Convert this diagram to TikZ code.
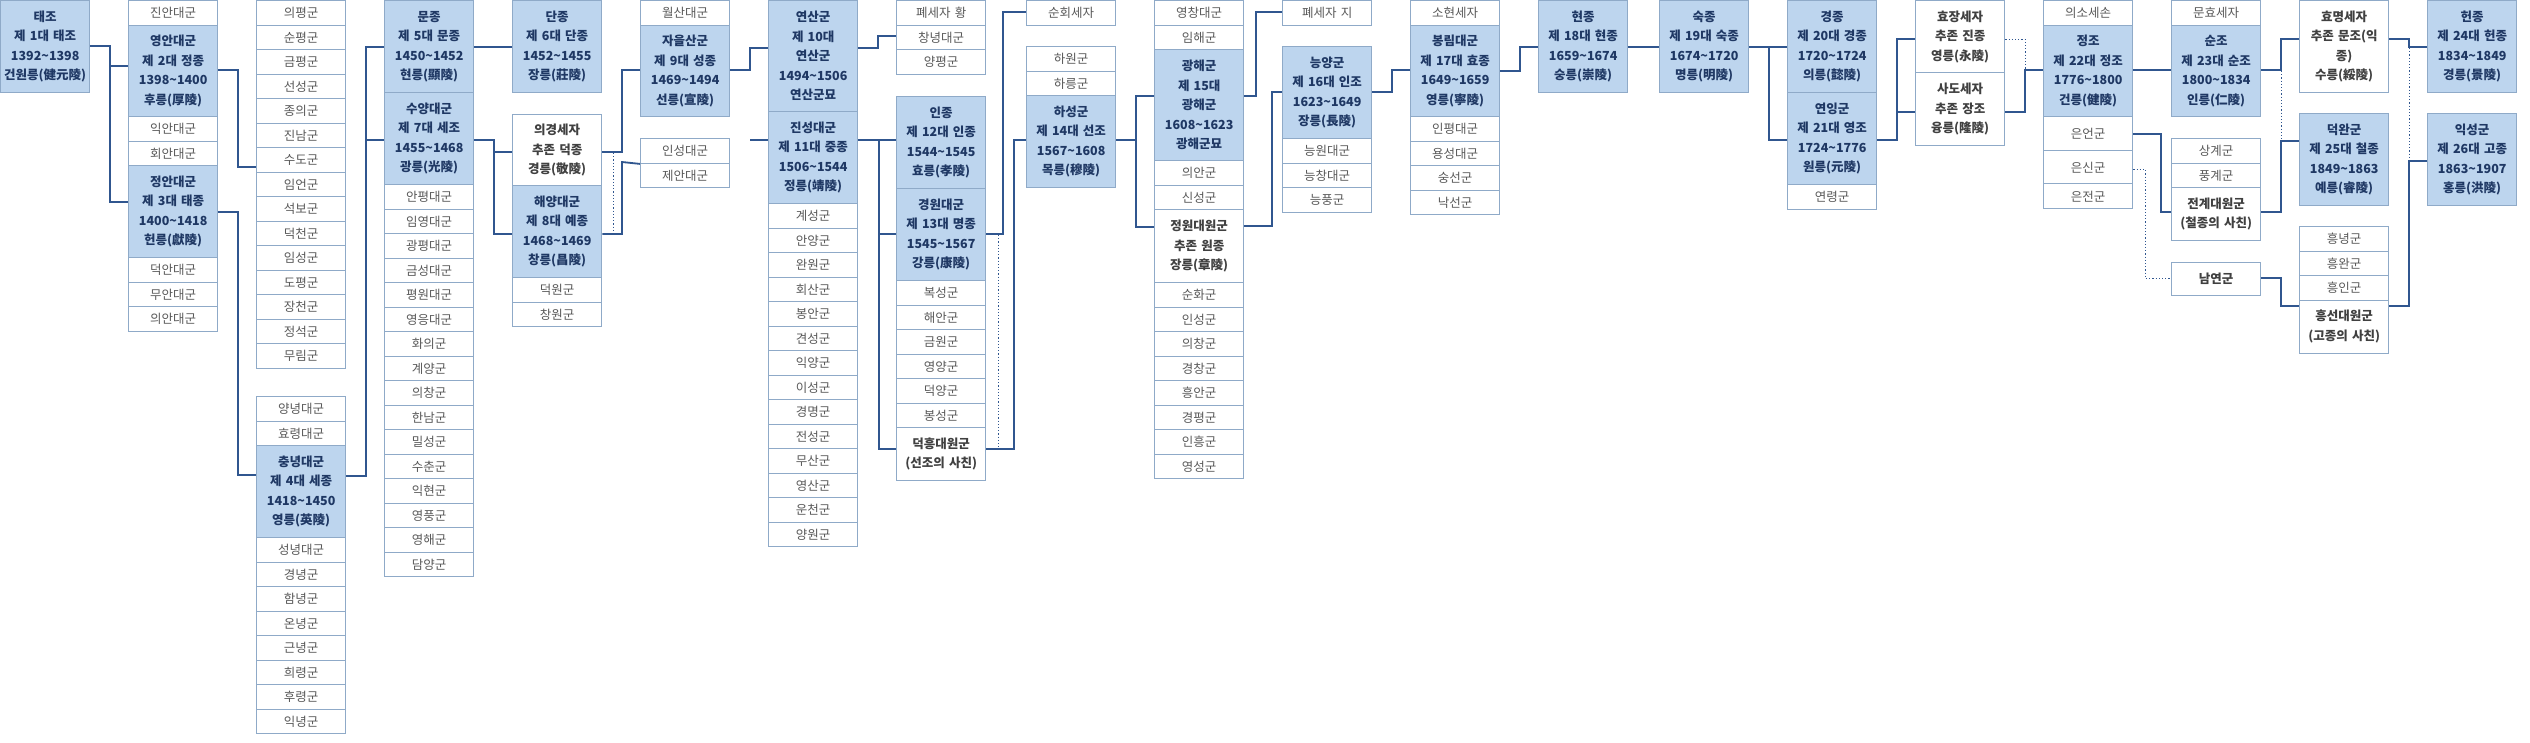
\documentclass[tikz,border=0pt]{standalone}
\usepackage{fontspec}
\setmainfont{Noto Sans CJK KR}
\definecolor{bluefill}{HTML}{BDD5EE}
\definecolor{bordc}{HTML}{8FAAC8}
\definecolor{bluetext}{HTML}{1F3864}
\definecolor{graytext}{HTML}{595959}
\definecolor{darktext}{HTML}{404040}
\definecolor{linec}{HTML}{30568F}
\newcommand{\tld}{\textasciitilde}
\begin{document}
\begin{tikzpicture}[x=1pt,y=-1pt,
  box/.style={draw=bordc, line width=1.4pt, anchor=north west, inner sep=0pt,
    text width=89pt, align=center, minimum height=#1},
  wb/.style={box=#1, fill=white, text=graytext, font=\fontsize{12.5}{19.5}\selectfont},
  wb/.default=24.5pt,
  bb/.style={box=#1, fill=bluefill, text=bluetext, font=\bfseries\fontsize{12.5}{19.5}\selectfont},
  bb/.default=92pt,
  wbb/.style={box=#1, fill=white, text=darktext, font=\bfseries\fontsize{12.5}{19.5}\selectfont},
  conn/.style={draw=linec, line width=1.8pt},
  dotc/.style={draw=linec, line width=1pt, dash pattern=on 1.2pt off 2pt}]
\useasboundingbox[fill=white] (0,0) rectangle (2530,742);

% column 1
\node[bb=92pt] (taejo) at (0,0) {태조\\제 1대 태조\\1392\tld1398\\건원릉(健元陵)};

% column 2
\node[wb] (jinan) at (128,0) {진안대군};
\node[bb=91.5pt] (youngan) at (128,24.5) {영안대군\\제 2대 정종\\1398\tld1400\\후릉(厚陵)};
\node[wb] (ikan) at (128,116) {익안대군};
\node[wb] (hoean) at (128,140.5) {회안대군};
\node[bb=92pt] (jeongan) at (128,165) {정안대군\\제 3대 태종\\1400\tld1418\\헌릉(獻陵)};
\node[wb] (deokan) at (128,257) {덕안대군};
\node[wb] (muan) at (128,281.5) {무안대군};
\node[wb] (uian) at (128,306) {의안대군};

% column 3
\foreach \t [count=\i] in {의평군,순평군,금평군,선성군,종의군,진남군,수도군,임언군,석보군,덕천군,임성군,도평군,장천군,정석군,무림군}
  \node[wb] (ca\i) at (256,{(\i-1)*24.5}) {\t};
\node[wb] (yangnyeong) at (256,396) {양녕대군};
\node[wb] (hyoryeong) at (256,420.5) {효령대군};
\node[bb=92pt] (chungnyeong) at (256,445) {충녕대군\\제 4대 세종\\1418\tld1450\\영릉(英陵)};
\foreach \t [count=\i] in {성녕대군,경녕군,함녕군,온녕군,근녕군,희령군,후령군,익녕군}
  \node[wb] (cb\i) at (256,{537+(\i-1)*24.5}) {\t};

% column 4
\node[bb=92pt] (munjong) at (384,0) {문종\\제 5대 문종\\1450\tld1452\\현릉(顯陵)};
\node[bb=92pt] (suyang) at (384,92) {수양대군\\제 7대 세조\\1455\tld1468\\광릉(光陵)};
\foreach \t [count=\i] in {안평대군,임영대군,광평대군,금성대군,평원대군,영응대군,화의군,계양군,의창군,한남군,밀성군,수춘군,익현군,영풍군,영해군,담양군}
  \node[wb] (cc\i) at (384,{184+(\i-1)*24.5}) {\t};

% column 5
\node[bb=92pt] (danjong) at (512,0) {단종\\제 6대 단종\\1452\tld1455\\장릉(莊陵)};
\node[wbb=71pt] (uigyeong) at (512,114) {의경세자\\추존 덕종\\경릉(敬陵)};
\node[bb=92pt] (haeyang) at (512,185) {해양대군\\제 8대 예종\\1468\tld1469\\창릉(昌陵)};
\node[wb] (deokwon) at (512,277) {덕원군};
\node[wb] (changwon) at (512,301.5) {창원군};

% column 6
\node[wb] (wolsan) at (640,0) {월산대군};
\node[bb=91.5pt] (jaeul) at (640,24.5) {자을산군\\제 9대 성종\\1469\tld1494\\선릉(宣陵)};
\node[wb] (inseong) at (640,138) {인성대군};
\node[wb] (jean) at (640,162.5) {제안대군};

% column 7
\node[bb=111pt] (yeonsan) at (768,0) {연산군\\제 10대\\연산군\\1494\tld1506\\연산군묘};
\node[bb=92pt] (jinseong) at (768,111) {진성대군\\제 11대 중종\\1506\tld1544\\정릉(靖陵)};
\foreach \t [count=\i] in {계성군,안양군,완원군,회산군,봉안군,견성군,익양군,이성군,경명군,전성군,무산군,영산군,운천군,양원군}
  \node[wb] (cd\i) at (768,{203+(\i-1)*24.5}) {\t};

% column 8
\node[wb] (hwang) at (896,0) {폐세자 황};
\node[wb] (changnyeong) at (896,24.5) {창녕대군};
\node[wb] (yangpyeong) at (896,49) {양평군};
\node[bb=92pt] (injong) at (896,96) {인종\\제 12대 인종\\1544\tld1545\\효릉(孝陵)};
\node[bb=92pt] (gyeongwon) at (896,188) {경원대군\\제 13대 명종\\1545\tld1567\\강릉(康陵)};
\foreach \t [count=\i] in {복성군,해안군,금원군,영양군,덕양군,봉성군}
  \node[wb] (ce\i) at (896,{280+(\i-1)*24.5}) {\t};
\node[wbb=53pt] (deokheung) at (896,427) {덕흥대원군\\(선조의 사친)};

% column 9
\node[wb] (sunhoe) at (1026,0) {순회세자};
\node[wb] (hawon) at (1026,46) {하원군};
\node[wb] (hareung) at (1026,70.5) {하릉군};
\node[bb=92pt] (haseong) at (1026,95) {하성군\\제 14대 선조\\1567\tld1608\\목릉(穆陵)};

% column 10
\node[wb] (yeongchang) at (1154,0) {영창대군};
\node[wb] (imhae) at (1154,24.5) {임해군};
\node[bb=111pt] (gwanghae) at (1154,49) {광해군\\제 15대\\광해군\\1608\tld1623\\광해군묘};
\node[wb] (uian2) at (1154,160) {의안군};
\node[wb] (sinseong) at (1154,184.5) {신성군};
\node[wbb=73pt] (jeongwon) at (1154,209) {정원대원군\\추존 원종\\장릉(章陵)};
\foreach \t [count=\i] in {순화군,인성군,의창군,경창군,흥안군,경평군,인흥군,영성군}
  \node[wb] (cf\i) at (1154,{282+(\i-1)*24.5}) {\t};

% column 11
\node[wb] (pyeji) at (1282,0) {폐세자 지};
\node[bb=92pt] (neungyang) at (1282,46) {능양군\\제 16대 인조\\1623\tld1649\\장릉(長陵)};
\node[wb] (neungwon) at (1282,138) {능원대군};
\node[wb] (neungchang) at (1282,162.5) {능창대군};
\node[wb] (neungpung) at (1282,187) {능풍군};

% column 12
\node[wb] (sohyeon) at (1410,0) {소현세자};
\node[bb=91.5pt] (bongnim) at (1410,24.5) {봉림대군\\제 17대 효종\\1649\tld1659\\영릉(寧陵)};
\node[wb] (inpyeong) at (1410,116) {인평대군};
\node[wb] (yongseong) at (1410,140.5) {용성대군};
\node[wb] (sungseon) at (1410,165) {숭선군};
\node[wb] (nakseon) at (1410,189.5) {낙선군};

% columns 13-14
\node[bb=92pt] (hyeonjong) at (1538,0) {현종\\제 18대 현종\\1659\tld1674\\숭릉(崇陵)};
\node[bb=92pt] (sukjong) at (1659,0) {숙종\\제 19대 숙종\\1674\tld1720\\명릉(明陵)};

% column 15
\node[bb=92pt] (gyeongjong) at (1787,0) {경종\\제 20대 경종\\1720\tld1724\\의릉(懿陵)};
\node[bb=92pt] (yeoning) at (1787,92) {연잉군\\제 21대 영조\\1724\tld1776\\원릉(元陵)};
\node[wb] (yeonryeong) at (1787,184) {연령군};

% column 16
\node[wbb=72pt] (hyojang) at (1915,0) {효장세자\\추존 진종\\영릉(永陵)};
\node[wbb=73pt] (sado) at (1915,72) {사도세자\\추존 장조\\융릉(隆陵)};

% column 17
\node[wb] (uiso) at (2043,0) {의소세손};
\node[bb=91.5pt] (jeongjo) at (2043,24.5) {정조\\제 22대 정조\\1776\tld1800\\건릉(健陵)};
\node[wb=34pt] (euneon) at (2043,116) {은언군};
\node[wb=33pt] (eunsin) at (2043,150) {은신군};
\node[wb=25pt] (eunjeon) at (2043,183) {은전군};

% column 18
\node[wb] (munhyo) at (2171,0) {문효세자};
\node[bb=91.5pt] (sunjo) at (2171,24.5) {순조\\제 23대 순조\\1800\tld1834\\인릉(仁陵)};
\node[wb] (sanggye) at (2171,138) {상계군};
\node[wb] (punggye) at (2171,162.5) {풍계군};
\node[wbb=53pt] (jeongye) at (2171,187) {전계대원군\\(철종의 사친)};
\node[wbb=33pt] (namyeon) at (2171,262) {남연군};

% column 19
\node[wbb=92pt] (hyomyeong) at (2299,0) {효명세자\\추존 문조(익\\종)\\수릉(綏陵)};
\node[bb=92pt] (deokwan) at (2299,113) {덕완군\\제 25대 철종\\1849\tld1863\\예릉(睿陵)};
\node[wb] (heungnyeong) at (2299,226) {흥녕군};
\node[wb] (heungwan) at (2299,250.5) {흥완군};
\node[wb] (heungin) at (2299,275) {흥인군};
\node[wbb=53pt] (heungseon) at (2299,299.5) {흥선대원군\\(고종의 사친)};

% column 20
\node[bb=92pt] (heonjong) at (2427,0) {헌종\\제 24대 헌종\\1834\tld1849\\경릉(景陵)};
\node[bb=92pt] (ikseong) at (2427,113) {익성군\\제 26대 고종\\1863\tld1907\\홍릉(洪陵)};

% connectors
\draw[conn] (taejo.east |- 0,46) -| (110,202) -- (jeongan.west |- 0,202);
\draw[conn] (110,66) -- (youngan.west |- 0,66);
\draw[conn] (youngan.east |- 0,70) -| (238,167) -- (ca7.west |- 0,167);
\draw[conn] (jeongan.east |- 0,212) -| (238,475) -- (chungnyeong.west |- 0,475);
\draw[conn] (chungnyeong.east |- 0,476) -| (366,47) -- (munjong.west |- 0,47);
\draw[conn] (366,140) -- (suyang.west |- 0,140);
\draw[conn] (munjong.east |- 0,47) -- (danjong.west |- 0,47);
\draw[conn] (suyang.east |- 0,140) -| (494,234) -- (haeyang.west |- 0,234);
\draw[conn] (494,152) -- (uigyeong.west |- 0,152);
\draw[conn] (uigyeong.east |- 0,152) -| (622,70) -- (jaeul.west |- 0,70);
\draw[conn] (haeyang.east |- 0,234) -| (622,162) -- (inseong.south west);
\draw[dotc] (613,153) -- (613,233);
\draw[conn] (jaeul.east |- 0,70) -| (750,48) -- (yeonsan.west |- 0,48);
\draw[conn] (750,140) -- (jinseong.west |- 0,140);
\draw[conn] (yeonsan.east |- 0,48) -| (878,36) -- (changnyeong.west |- 0,36);
\draw[conn] (jinseong.east |- 0,140) -| (879,449) -- (deokheung.west |- 0,449);
\draw[conn] (879,140) -- (injong.west |- 0,140);
\draw[conn] (879,234) -- (gyeongwon.west |- 0,234);
\draw[conn] (gyeongwon.east |- 0,234) -| (1003,12) -- (sunhoe.west |- 0,12);
\draw[dotc] (998,235) -- (998,448);
\draw[conn] (deokheung.east |- 0,449) -| (1014,140) -- (haseong.west |- 0,140);
\draw[conn] (haseong.east |- 0,140) -| (1136,96) -- (gwanghae.west |- 0,96);
\draw[conn] (1136,140) |- (jeongwon.west |- 0,227);
\draw[conn] (gwanghae.east |- 0,96) -| (1256,12) -- (pyeji.west |- 0,12);
\draw[conn] (jeongwon.east |- 0,226) -| (1272,92) -- (neungyang.west |- 0,92);
\draw[conn] (neungyang.east |- 0,92) -| (1392,70) -- (bongnim.west |- 0,70);
\draw[conn] (bongnim.east |- 0,71) -| (1520,47) -- (hyeonjong.west |- 0,47);
\draw[conn] (hyeonjong.east |- 0,47) -- (sukjong.west |- 0,47);
\draw[conn] (sukjong.east |- 0,47) -| (1769,140) -- (yeoning.west |- 0,140);
\draw[conn] (1769,47) -- (gyeongjong.west |- 0,47);
\draw[conn] (yeoning.east |- 0,140) -| (1897,39) -- (hyojang.west |- 0,39);
\draw[conn] (1897,112) -- (sado.west |- 0,112);
\draw[conn] (sado.east |- 0,112) -| (2025,70) -- (jeongjo.west |- 0,70);
\draw[dotc] (hyojang.east |- 0,39) -| (2025,70);
\draw[conn] (jeongjo.east |- 0,70) -- (sunjo.west |- 0,70);
\draw[conn] (euneon.east |- 0,134) -| (2161,212) -- (jeongye.west |- 0,212);
\draw[dotc] (eunsin.east |- 0,169) -| (2145,278) -- (namyeon.west |- 0,278);
\draw[conn] (sunjo.east |- 0,70) -| (2281,39) -- (hyomyeong.west |- 0,39);
\draw[dotc] (2281,71) -- (2281,140);
\draw[conn] (jeongye.east |- 0,212) -| (2281,141) -- (deokwan.west |- 0,141);
\draw[conn] (namyeon.east |- 0,278) -| (2281,306) -- (heungseon.west |- 0,306);
\draw[conn] (hyomyeong.east |- 0,39) -| (2409,47) -- (heonjong.west |- 0,47);
\draw[dotc] (2409,48) -- (2409,160);
\draw[conn] (heungseon.east |- 0,306) -| (2409,161) -- (ikseong.west |- 0,161);
\end{tikzpicture}
\end{document}
